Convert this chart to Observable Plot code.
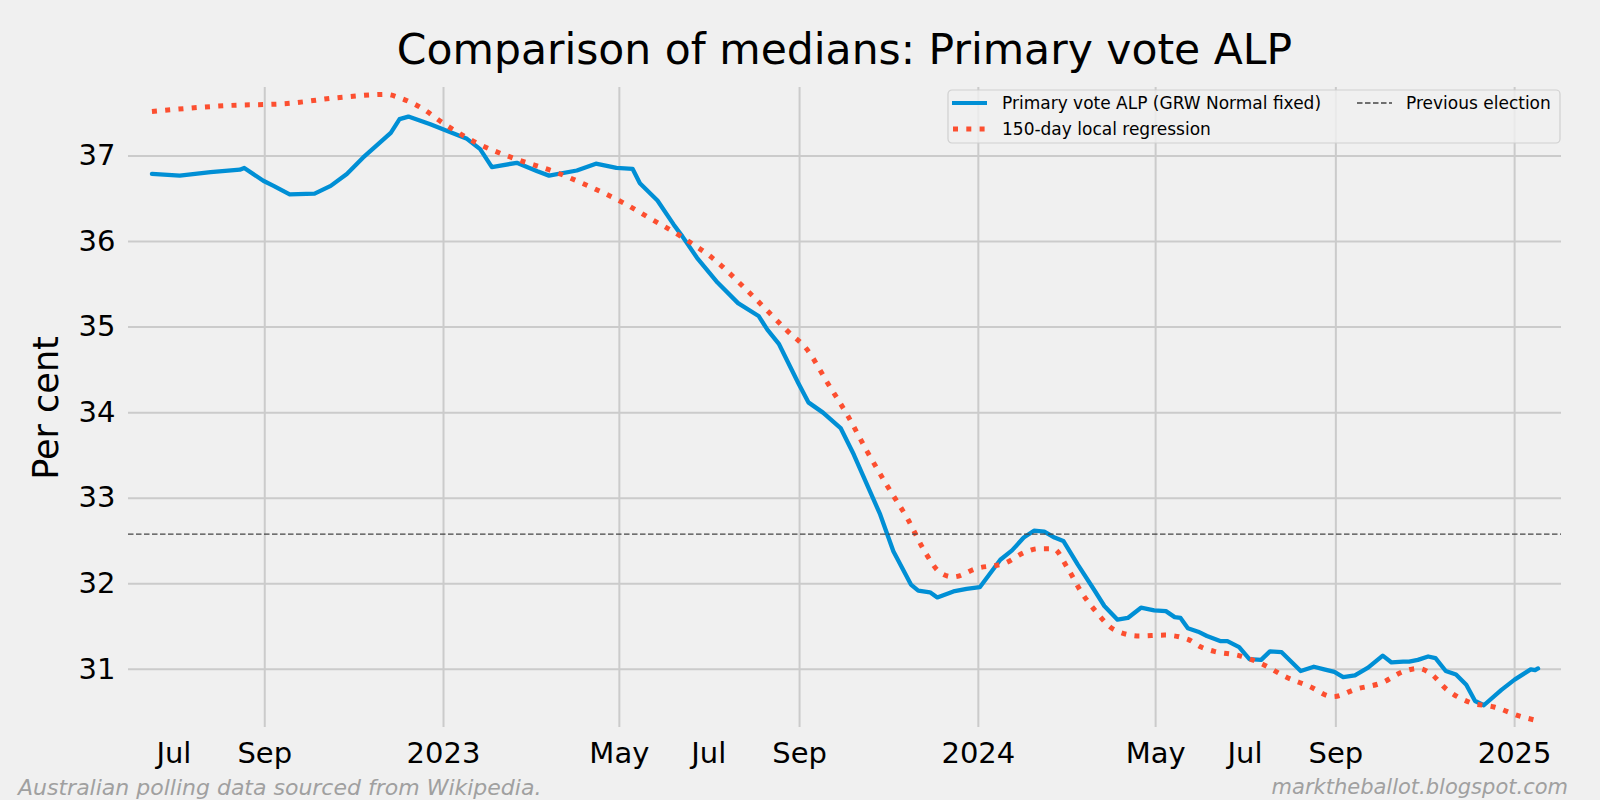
<!DOCTYPE html>
<html>
<head>
<meta charset="utf-8">
<script src="https://cdn.jsdelivr.net/npm/d3@7"></script>
<script src="https://cdn.jsdelivr.net/npm/@observablehq/plot@0.6"></script>
<style>
  html, body { margin: 0; padding: 0; background: #f0f0f0; }
  #wrap { position: relative; width: 1600px; height: 800px; background: #f0f0f0; font-family: "DejaVu Sans", sans-serif; overflow: hidden; }
  #chart { position: absolute; left: 0; top: 0; }
  #title { position: absolute; left: 128px; width: 1433px; top: 29px; text-align: center; font-size: 42.5px; color: #000; line-height: 1; white-space: nowrap; }
  #ylabel { position: absolute; left: 46px; top: 408px; width: 0; height: 0; }
  #ylabel span { position: absolute; left: 0; top: 0; transform: translate(-50%, -50%) rotate(-90deg); font-size: 35px; color: #000; white-space: nowrap; line-height: 1; }
  .foot { position: absolute; top: 777px; font-style: italic; color: #a0a0a0; white-space: nowrap; line-height: 1; }
  #legend { position: absolute; left: 947px; top: 89px; }
</style>
</head>
<body>
<div id="wrap">
  <div id="chart"></div>
  <div id="title">Comparison of medians: Primary vote ALP</div>
  <div id="ylabel"><span>Per cent</span></div>
  <div id="legend"></div>
  <div class="foot" style="left:18px; font-size:22px;">Australian polling data sourced from Wikipedia.</div>
  <div class="foot" style="right:32px; font-size:21px;">marktheballot.blogspot.com</div>
</div>
<script>
// ---- data ----
const blueDates = [
  "2022-06-16","2022-07-05","2022-07-26","2022-08-15","2022-08-18","2022-08-31","2022-09-07","2022-09-18",
  "2022-10-05","2022-10-16","2022-10-27","2022-11-07","2022-11-26","2022-12-02","2022-12-08","2022-12-23",
  "2023-01-01","2023-01-17","2023-01-26","2023-02-03","2023-02-20","2023-03-06","2023-03-14","2023-04-02",
  "2023-04-15","2023-04-29","2023-05-10","2023-05-15","2023-05-27","2023-06-07","2023-06-13","2023-06-23",
  "2023-07-07","2023-07-21","2023-08-04","2023-08-10","2023-08-18","2023-08-31","2023-09-07","2023-09-17",
  "2023-09-29","2023-10-08","2023-10-26","2023-11-04","2023-11-16","2023-11-21","2023-11-29","2023-12-04",
  "2023-12-15","2023-12-24","2024-01-02","2024-01-16","2024-01-24","2024-02-01","2024-02-08","2024-02-15",
  "2024-02-22","2024-02-28","2024-03-09","2024-03-20","2024-03-27","2024-04-05","2024-04-12","2024-04-21",
  "2024-04-30","2024-05-08","2024-05-14","2024-05-18","2024-05-23","2024-05-30","2024-06-05","2024-06-14",
  "2024-06-19","2024-06-27","2024-07-04","2024-07-12","2024-07-18","2024-07-26","2024-08-08","2024-08-17",
  "2024-08-24","2024-08-31","2024-09-06","2024-09-14","2024-09-23","2024-10-03","2024-10-09","2024-10-17",
  "2024-10-21","2024-10-27","2024-11-03","2024-11-08","2024-11-15","2024-11-22","2024-11-29","2024-12-05",
  "2024-12-11","2024-12-23","2025-01-01","2025-01-12","2025-01-15","2025-01-17"
];
const blueValues = [
  36.79,36.77,36.81,36.84,36.86,36.71,36.65,36.55,
  36.56,36.65,36.79,36.98,37.27,37.43,37.46,37.37,
  37.31,37.20,37.08,36.87,36.92,36.82,36.77,36.83,
  36.91,36.86,36.85,36.68,36.48,36.20,36.06,35.81,
  35.52,35.28,35.13,34.97,34.80,34.35,34.12,34.00,
  33.82,33.51,32.81,32.38,31.99,31.92,31.90,31.84,
  31.91,31.94,31.96,32.28,32.39,32.54,32.62,32.61,
  32.54,32.50,32.22,31.93,31.74,31.58,31.60,31.72,
  31.69,31.68,31.61,31.60,31.48,31.44,31.39,31.33,
  31.33,31.26,31.12,31.11,31.21,31.20,30.98,31.03,
  31.00,30.97,30.91,30.93,31.02,31.16,31.08,31.09,
  31.09,31.11,31.15,31.13,30.98,30.94,30.82,30.63,
  30.58,30.76,30.88,31.00,30.99,31.01
];
const redDates = [
  "2022-06-16","2022-08-08","2022-09-14","2022-10-20","2022-11-23","2022-12-02","2022-12-18",
  "2023-01-01","2023-01-25","2023-02-20","2023-03-17","2023-04-11","2023-05-05","2023-05-20","2023-06-12",
  "2023-07-04","2023-07-30","2023-08-24","2023-09-06","2023-09-20","2023-10-04","2023-10-17","2023-10-31",
  "2023-11-14","2023-11-26","2023-12-06","2023-12-15","2023-12-31","2024-01-19","2024-02-02","2024-02-11",
  "2024-02-21","2024-03-02","2024-03-11","2024-03-21","2024-04-03","2024-04-20","2024-05-07","2024-05-23",
  "2024-06-01","2024-06-10","2024-06-27","2024-07-13","2024-07-29","2024-08-14","2024-08-30","2024-09-15",
  "2024-10-02","2024-10-18","2024-10-27","2024-11-04","2024-11-16","2024-12-02","2024-12-18","2025-01-05",
  "2025-01-14"
];
const redValues = [
  37.52,37.59,37.61,37.68,37.72,37.68,37.55,
  37.38,37.14,36.96,36.82,36.64,36.44,36.29,36.06,
  35.80,35.38,34.95,34.74,34.35,33.96,33.55,33.14,
  32.75,32.36,32.13,32.08,32.18,32.24,32.37,32.41,
  32.41,32.18,31.91,31.68,31.46,31.39,31.40,31.35,
  31.26,31.21,31.16,31.06,30.91,30.80,30.68,30.77,
  30.84,30.98,31.01,30.96,30.76,30.61,30.56,30.45,
  30.41
];
const previousElection = 32.58;
const yTicks = [31, 32, 33, 34, 35, 36, 37];
const gridDates = ["2022-09-01","2023-01-01","2023-05-01","2023-09-01","2024-01-01","2024-05-01","2024-09-01","2025-01-01"];
const tickDates = ["2022-07-01","2022-09-01","2023-01-01","2023-05-01","2023-07-01","2023-09-01","2024-01-01","2024-05-01","2024-07-01","2024-09-01","2025-01-01"];
const tickLabels = ["Jul","Sep","2023","May","Jul","Sep","2024","May","Jul","Sep","2025"];
const seriesNames = ["Primary vote ALP (GRW Normal fixed)", "150-day local regression", "Previous election"];

// ---- build ----
const parse = s => new Date(s + "T00:00:00Z");
const blue = blueDates.map((d, i) => ({date: parse(d), value: blueValues[i]}));
const red = redDates.map((d, i) => ({date: parse(d), value: redValues[i]}));
const grid = gridDates.map(parse);
const ticks = tickDates.map(parse);
const labelMap = new Map(ticks.map((d, i) => [+d, tickLabels[i]]));

const BLUE = "#008fd5", RED = "#fc4f30", GRID = "#cbcbcb";

const chart = Plot.plot({
  width: 1600,
  height: 800,
  marginLeft: 128,
  marginRight: 39,
  marginTop: 87,
  marginBottom: 73,
  style: {background: "transparent", fontFamily: "DejaVu Sans, sans-serif", color: "#000"},
  x: {type: "utc", domain: [parse("2022-05-31"), parse("2025-02-02")]},
  y: {domain: [30.32, 37.80]},
  marks: [
    Plot.ruleY(yTicks, {stroke: GRID, strokeWidth: 2}),
    Plot.ruleX(grid, {stroke: GRID, strokeWidth: 2}),
    Plot.axisY(yTicks, {tickSize: 0, tickPadding: 13, fontSize: 29, label: null, tickFormat: d => String(d)}),
    Plot.axisX(ticks, {tickSize: 0, tickPadding: 15, fontSize: 29, label: null, tickFormat: d => labelMap.get(+d)}),
    Plot.line(blue, {x: "date", y: "value", stroke: BLUE, strokeWidth: 4.3, strokeLinejoin: "round"}),
    Plot.line(red, {x: "date", y: "value", stroke: RED, strokeWidth: 5, strokeDasharray: "5,8.3", strokeLinecap: "butt", curve: "monotone-x"}),
    Plot.ruleY([previousElection], {stroke: "#444", strokeWidth: 1.4, strokeDasharray: "5.5,2.5"})
  ]
});
document.getElementById("chart").appendChild(chart);

// ---- legend ----
const lg = d3.select("#legend").append("svg").attr("width", 616).attr("height", 56);
lg.append("rect").attr("x", 1).attr("y", 1).attr("width", 612).attr("height", 53).attr("rx", 4)
  .attr("fill", "#f0f0f0").attr("fill-opacity", 0.8).attr("stroke", "#d0d0d0").attr("stroke-width", 1.2);
lg.append("line").attr("x1", 5).attr("x2", 40).attr("y1", 14).attr("y2", 14).attr("stroke", BLUE).attr("stroke-width", 4);
lg.append("line").attr("x1", 6).attr("x2", 40).attr("y1", 40).attr("y2", 40).attr("stroke", RED).attr("stroke-width", 5).attr("stroke-dasharray", "5,8.3");
lg.append("line").attr("x1", 410).attr("x2", 445).attr("y1", 14).attr("y2", 14).attr("stroke", "#444").attr("stroke-width", 1.4).attr("stroke-dasharray", "5.5,2.5");
const lt = [[55, 14, seriesNames[0]], [55, 40, seriesNames[1]], [459, 14, seriesNames[2]]];
lg.selectAll("text.l").data(lt).join("text").attr("class", "l")
  .attr("x", d => d[0]).attr("y", d => d[1]).attr("dy", "0.36em")
  .attr("font-family", "DejaVu Sans, sans-serif").attr("font-size", 17).attr("fill", "#000")
  .text(d => d[2]);
</script>
</body>
</html>
